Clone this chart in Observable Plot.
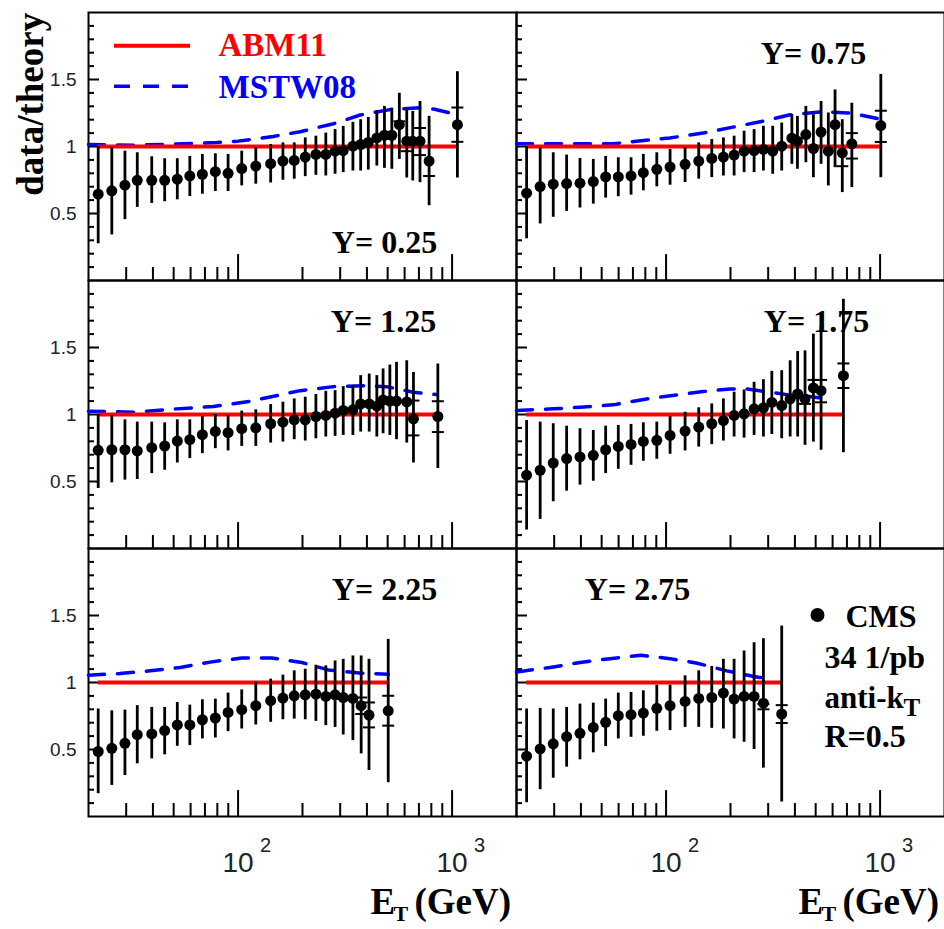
<!DOCTYPE html>
<html><head><meta charset="utf-8">
<script src="https://cdn.jsdelivr.net/npm/d3@7"></script>
<script src="https://cdn.jsdelivr.net/npm/@observablehq/plot@0.6"></script>
<style>html,body{margin:0;padding:0;background:#fff;} svg{display:block;}</style>
</head><body><div id="chart"></div>
<script>
// ---------------- data ----------------
const rapidityLabels = ["Y= 0.25", "Y= 0.75", "Y= 1.25", "Y= 1.75", "Y= 2.25", "Y= 2.75"];
const seriesNames = ["ABM11", "MSTW08"];
const cmsLegendLines = ["CMS", "34 1/pb", "anti-k", "R=0.5"];
const xMajorTicks = [100, 1000];
const xTickExponents = ["2", "3"];
const xMinorTicks = [30, 40, 50, 60, 70, 80, 90, 200, 300, 400, 500, 600, 700, 800, 900];
const yMajorTicks = [0.5, 1, 1.5];
const yTickLabels = ["0.5", "1", "1.5"];
const yMinorTicks = [0.1, 0.2, 0.3, 0.4, 0.6, 0.7, 0.8, 0.9, 1.1, 1.2, 1.3, 1.4, 1.6, 1.7, 1.8, 1.9];

// CMS data/theory: [E_T (GeV), ratio, total error low, total error high]
const cmsY025 = [
  [22.2,0.644,0.274,1.00],[25.7,0.669,0.34,0.99],[29.6,0.711,0.454,0.965],[33.8,0.748,0.546,0.953],
  [39.5,0.748,0.575,0.923],[45.4,0.748,0.588,0.909],[52.0,0.756,0.602,0.909],[59.5,0.780,0.627,0.926],
  [68.1,0.793,0.644,0.941],[78.3,0.812,0.664,0.946],[89.8,0.800,0.664,0.941],[104,0.835,0.706,0.965],
  [121,0.854,0.719,0.99],[142,0.872,0.728,1.015],[162,0.891,0.748,1.027],[183,0.896,0.756,1.027],
  [206,0.921,0.775,1.064],[231,0.941,0.785,1.077],[257,0.941,0.780,1.10],[284,0.965,0.793,1.126],
  [310,0.970,0.805,1.15],[344,1.002,0.817,1.18],[374,1.015,0.817,1.20],[406,1.03,0.824,1.217],
  [445,1.064,0.854,1.267],[483,1.084,0.837,1.299],[523,1.084,0.830,1.286],[567,1.163,0.904,1.397],
  [614,1.04,0.765,1.286],[655,1.04,0.743,1.262],[708,1.04,0.73,1.336],[781,0.891,0.558,1.225],
  [1059,1.163,0.765,1.558]
];
const cmsY075 = [
  [22.3,0.652,0.311,1.0],[25.8,0.701,0.422,0.99],[29.7,0.719,0.472,0.953],[34.3,0.723,0.516,0.936],
  [39.6,0.726,0.541,0.911],[45.7,0.738,0.570,0.904],[52.2,0.773,0.615,0.926],[59.8,0.773,0.625,0.916],
  [68.6,0.780,0.637,0.916],[78.3,0.805,0.669,0.941],[90.5,0.830,0.699,0.953],[104.4,0.847,0.711,0.978],
  [122.7,0.867,0.731,0.990],[142.1,0.891,0.756,1.027],[163.5,0.911,0.768,1.052],[185.3,0.921,0.780,1.064],
  [207.9,0.936,0.780,1.077],[231.5,0.965,0.805,1.114],[257.8,0.970,0.805,1.126],[285,0.978,0.817,1.151],
  [315,0.965,0.793,1.151],[347,1.002,0.817,1.175],[387,1.062,0.867,1.237],[411,1.04,0.83,1.225],
  [450,1.089,0.879,1.299],[488,0.985,0.767,1.237],[530,1.108,0.867,1.336],[573,0.965,0.706,1.25],
  [616,1.163,0.842,1.422],[666,0.953,0.656,1.2],[738,1.02,0.693,1.323],[1008,1.156,0.767,1.538]
];
const cmsY125 = [
  [22.2,0.733,0.448,1.0],[25.7,0.737,0.49,0.993],[29.6,0.737,0.51,0.96],[33.8,0.728,0.515,0.943],
  [39.5,0.752,0.559,0.943],[45.4,0.765,0.584,0.938],[52.0,0.802,0.638,0.96],[59.5,0.812,0.671,0.96],
  [68.1,0.849,0.708,0.985],[78.3,0.874,0.745,1.0],[89.8,0.864,0.728,0.993],[104,0.894,0.762,1.025],
  [121,0.901,0.762,1.035],[142,0.931,0.787,1.074],[162,0.943,0.794,1.092],[183,0.960,0.812,1.116],
  [206,0.960,0.802,1.129],[231,0.985,0.819,1.149],[257,0.993,0.832,1.173],[284,1.01,0.837,1.178],
  [310,1.03,0.844,1.208],[344,1.035,0.844,1.215],[374,1.079,0.869,1.29],[410,1.079,0.869,1.302],
  [445,1.062,0.832,1.29],[476,1.109,0.856,1.34],[512,1.10,0.844,1.369],[550,1.10,0.812,1.389],
  [614,1.094,0.787,1.401],[660,0.968,0.638,1.314],[858,0.985,0.597,1.377]
];
const cmsY175 = [
  [22.3,0.547,0.138,0.955],[25.8,0.584,0.217,0.943],[29.7,0.638,0.349,0.931],[34.3,0.671,0.428,0.913],
  [39.6,0.683,0.473,0.894],[45.7,0.695,0.502,0.881],[52.2,0.737,0.559,0.913],[59.8,0.762,0.591,0.918],
  [68.6,0.777,0.621,0.926],[78.3,0.799,0.651,0.938],[90.5,0.807,0.666,0.943],[104.4,0.844,0.703,0.985],
  [122.7,0.876,0.728,1.017],[142.1,0.906,0.757,1.05],[163.5,0.931,0.775,1.079],[185.3,0.955,0.802,1.116],
  [207.9,0.993,0.832,1.166],[231.5,1.005,0.824,1.183],[257.8,1.042,0.844,1.24],[285,1.05,0.832,1.26],
  [312,1.09,0.851,1.322],[347,1.067,0.819,1.327],[380,1.116,0.832,1.401],[412,1.153,0.832,1.47],
  [446,1.116,0.77,1.475],[488,1.198,0.794,1.6],[530,1.178,0.733,1.66],[674,1.29,0.715,1.86]
];
const cmsY225 = [
  [22.2,0.485,0.170,0.802],[25.7,0.509,0.232,0.789],[29.6,0.546,0.306,0.794],[33.8,0.611,0.393,0.827],
  [39.5,0.616,0.43,0.814],[45.4,0.641,0.46,0.814],[52.0,0.683,0.524,0.851],[59.5,0.683,0.529,0.831],
  [68.1,0.722,0.579,0.871],[78.3,0.735,0.586,0.876],[89.8,0.777,0.633,0.921],[104,0.797,0.653,0.945],
  [121,0.827,0.683,1.0],[142,0.864,0.703,1.025],[162,0.884,0.722,1.055],[183,0.901,0.727,1.087],
  [206,0.908,0.722,1.099],[231,0.913,0.71,1.129],[257,0.896,0.678,1.124],[284,0.908,0.665,1.161],
  [310,0.888,0.608,1.173],[344,0.881,0.566,1.198],[376,0.827,0.467,1.198],[409,0.757,0.343,1.173],
  [503,0.789,0.252,1.322]
];
const cmsY275 = [
  [22.3,0.450,0.103,0.802],[25.8,0.504,0.2,0.807],[29.7,0.542,0.286,0.802],[34.3,0.596,0.368,0.814],
  [39.6,0.621,0.423,0.839],[45.7,0.665,0.475,0.846],[52.2,0.703,0.522,0.876],[59.8,0.752,0.579,0.921],
  [68.6,0.76,0.591,0.926],[78.3,0.772,0.599,0.938],[90.5,0.807,0.636,0.98],[104.4,0.827,0.641,0.98],
  [122.7,0.859,0.665,1.05],[142.1,0.881,0.665,1.087],[163.5,0.888,0.658,1.119],[185.3,0.921,0.653,1.173],
  [207.9,0.876,0.579,1.173],[231.5,0.896,0.554,1.235],[257.8,0.896,0.5,1.297],[285,0.846,0.361,1.327],
  [347,0.765,0.108,1.421]
];

// inner (statistical) error marks: [E_T, ratio]
const statY025 = [[567,1.188],[614,0.965],[708,1.138],[708,0.936],[781,0.78],[1059,1.291],[1059,1.035]];
const statY075 = [[1008,1.267],[1008,1.034],[738,1.10],[738,0.91],[666,0.853]];
const statY125 = [[660,1.104],[660,0.844],[858,1.099],[858,0.869]];
const statY175 = [[674,1.381],[674,1.198],[488,1.258],[530,1.258],[530,1.091],[446,1.079]];
const statY225 = [[376,0.888],[376,0.765],[409,0.851],[409,0.665],[503,0.901],[503,0.678]];
const statY275 = [[285,0.84],[285,0.80],[347,0.831],[347,0.698]];

// MSTW08 / ABM11 ratio: [E_T, ratio]
const mstwY025 = [[20,1.015],[32.4,1.01],[55.5,1.02],[79.5,1.03],[100,1.04],[146,1.075],[195,1.11],[279,1.17],[372,1.235],[512,1.275],[707,1.29],[818,1.28],[1040,1.24]];
const mstwY075 = [[20,1.02],[29.7,1.02],[56.7,1.02],[72.9,1.04],[104,1.064],[149,1.10],[214,1.15],[285,1.19],[380,1.237],[543,1.26],[725,1.25],[982,1.207]];
const mstwY125 = [[20,1.025],[32.4,1.017],[51.7,1.042],[76.6,1.06],[113.8,1.099],[195,1.178],[279,1.208],[399,1.215],[494,1.208],[660,1.166],[846,1.149]];
const mstwY175 = [[20,1.03],[29.7,1.042],[39.6,1.054],[56.7,1.072],[81.2,1.116],[112,1.146],[149,1.171],[199,1.191],[238,1.191],[306,1.166],[393,1.141],[471,1.134],[573,1.116]];
const mstwY225 = [[20,1.055],[28.1,1.067],[38.8,1.087],[53.6,1.112],[75.3,1.154],[104,1.183],[143.6,1.183],[198.6,1.149],[264,1.094],[378,1.069],[503,1.062]];
const mstwY275 = [[20,1.079],[28.7,1.112],[39.6,1.149],[54.7,1.178],[76.2,1.203],[104.4,1.178],[140,1.144],[192,1.087],[273,1.037],[295,1.035]];

// ---------------- layout ----------------
const WIDTH = 944, HEIGHT = 929;
const M = {top: 11, bottom: 112, left: 88, right: 0};
const FH = (HEIGHT - M.top - M.bottom) / 3;   // facet height
const FW = (WIDTH - M.left - M.right) / 2;    // facet width
const X_DOMAIN = [20, 2000], Y_DOMAIN = [0, 2];
const pxY = FH / (Y_DOMAIN[1] - Y_DOMAIN[0]);
const pxDec = FW / Math.log10(X_DOMAIN[1] / X_DOMAIN[0]);
// convert a pixel offset from a facet's top-left corner to data coordinates (annotations only)
const gx = px => X_DOMAIN[0] * 10 ** (px / pxDec);
const gy = px => Y_DOMAIN[1] - px / pxY;

const RED = "#ff0000", BLUE = "#0000ff";
const SERIF = "Liberation Serif", SANS = "Liberation Sans";

const panels = [
  {data: cmsY025, mstw: mstwY025, stat: statY025},
  {data: cmsY075, mstw: mstwY075, stat: statY075},
  {data: cmsY125, mstw: mstwY125, stat: statY125},
  {data: cmsY175, mstw: mstwY175, stat: statY175},
  {data: cmsY225, mstw: mstwY225, stat: statY225},
  {data: cmsY275, mstw: mstwY275, stat: statY275}
].map((p, i) => ({...p, label: rapidityLabels[i], col: i % 2, row: Math.floor(i / 2)}));

const pts = panels.flatMap(p => p.data.map(([et, r, lo, hi]) => ({et, r, lo, hi, col: p.col, row: p.row})));
const curves = panels.flatMap(p => p.mstw.map(([et, r]) => ({et, r, col: p.col, row: p.row})));
const stats = panels.flatMap(p => p.stat.map(([et, r]) => ({et, r, col: p.col, row: p.row})));
const abm = panels.map(p => ({x1: d3.min(p.data, d => d[0]), x2: d3.max(p.data, d => d[0]), col: p.col, row: p.row}));

const yLab = [0, 1, 2].flatMap(row => yMajorTicks.map((v, i) => ({v, t: yTickLabels[i], col: 0, row})));
const xLab = [0, 1].flatMap(col => xMajorTicks.map((v, i) => ({v, base: "10", exp: xTickExponents[i], col, row: 2})));

const F = {fx: "col", fy: "row"};
const hbar = {draw(context, size) { const r = Math.sqrt(size / Math.PI); context.moveTo(-r, 0); context.lineTo(r, 0); }};

const note = (t, col, row, dxp, dyp, o = {}) => Plot.text([{t, col, row}], {
  ...F, x: gx(dxp), y: gy(dyp), text: "t", textAnchor: "start", lineAnchor: "bottom",
  fontFamily: SERIF, fontWeight: "bold", fontSize: 32, fill: "black", ...o
});
const legendLine = (col, row, dyp, o) => Plot.ruleY([{col, row}], {...F, y: gy(dyp), x1: gx(26), x2: gx(102), ...o});

// panel-label offsets (px from facet top-left, centre of text / baseline)
const labelOffsets = [[296, 241], [297, 52], [295, 52], [300, 52], [296, 52], [121, 52]];

const marks = [
  Plot.frame({stroke: "black", strokeWidth: 2}),
  // inward ticks
  Plot.ruleX(xMinorTicks, {x: d => d, y1: Y_DOMAIN[0], y2: Y_DOMAIN[0] + 13 / pxY, stroke: "black", strokeWidth: 2}),
  Plot.ruleX(xMajorTicks, {x: d => d, y1: Y_DOMAIN[0], y2: Y_DOMAIN[0] + 26 / pxY, stroke: "black", strokeWidth: 2}),
  Plot.ruleY(yMinorTicks, {y: d => d, x1: X_DOMAIN[0], x2: gx(6), stroke: "black", strokeWidth: 2}),
  Plot.ruleY(yMajorTicks, {y: d => d, x1: X_DOMAIN[0], x2: gx(11), stroke: "black", strokeWidth: 2}),
  // tick labels
  Plot.text(yLab, {...F, x: X_DOMAIN[0], y: "v", text: "t", dx: -12, textAnchor: "end", fontFamily: SANS, fontSize: 19, fill: "#222"}),
  Plot.text(xLab, {...F, x: "v", y: gy(FH + 56), text: "base", textAnchor: "middle", lineAnchor: "bottom", fontFamily: SANS, fontSize: 28, fill: "#222"}),
  Plot.text(xLab, {...F, x: "v", y: gy(FH + 36), text: "exp", dx: 22, textAnchor: "start", lineAnchor: "bottom", fontFamily: SANS, fontSize: 20, fill: "#222"}),
  // panel labels
  ...panels.map((p, i) => note(p.label, p.col, p.row, labelOffsets[i][0], labelOffsets[i][1], {textAnchor: "middle"})),
  // axis titles
  note("data/theory", 0, 0, -57, 92, {rotate: -90, textAnchor: "middle", lineAnchor: "middle", fontSize: 37}),
  ...[0, 1].flatMap(c => [
    note("E", c, 2, 282, FH + 98, {fontSize: 37}),
    note("T", c, 2, 305, FH + 105, {fontSize: 22}),
    note("(GeV)", c, 2, 326, FH + 98, {fontSize: 37})
  ]),
  // legend (top-left panel)
  legendLine(0, 0, 33.3, {stroke: RED, strokeWidth: 4}),
  legendLine(0, 0, 74, {stroke: BLUE, strokeWidth: 3.5, strokeDasharray: "16,13"}),
  note(seriesNames[0], 0, 0, 130, 44, {fill: RED, fontSize: 33}),
  note(seriesNames[1], 0, 0, 130, 86, {fill: BLUE, fontSize: 33}),
  // theory curves
  Plot.line(curves, {...F, x: "et", y: "r", stroke: BLUE, strokeWidth: 3.5, strokeDasharray: "16,13"}),
  Plot.ruleY(abm, {...F, y: 1, x1: "x1", x2: "x2", stroke: RED, strokeWidth: 4}),
  // data
  Plot.ruleX(pts, {...F, x: "et", y1: "lo", y2: "hi", stroke: "black", strokeWidth: 2.8}),
  Plot.dot(stats, {...F, x: "et", y: "r", r: 6, symbol: hbar, fill: "none", stroke: "black", strokeWidth: 2}),
  Plot.dot(pts, {...F, x: "et", y: "r", r: 5.5, fill: "black", stroke: "none"}),
  // CMS legend (bottom-right panel)
  Plot.dot([{col: 1, row: 2}], {...F, x: gx(301), y: gy(66.7), r: 7, fill: "black", stroke: "none"}),
  note(cmsLegendLines[0], 1, 2, 329, 78.7),
  note(cmsLegendLines[1], 1, 2, 308, 119.7),
  note(cmsLegendLines[2], 1, 2, 308, 159.7, {fontSize: 31}),
  note("T", 1, 2, 387, 168.4, {fontSize: 25}),
  note(cmsLegendLines[3], 1, 2, 308, 198.7)
];

const chart = Plot.plot({
  width: WIDTH, height: HEIGHT,
  marginTop: M.top, marginBottom: M.bottom, marginLeft: M.left, marginRight: M.right,
  style: {background: "white", fontFamily: SANS, overflow: "visible"},
  x: {type: "log", domain: X_DOMAIN, axis: null},
  y: {domain: Y_DOMAIN, axis: null},
  fx: {domain: [0, 1], padding: 0, axis: null},
  fy: {domain: [0, 1, 2], padding: 0, axis: null},
  marks
});
document.getElementById("chart").append(chart);
</script>
</body></html>
